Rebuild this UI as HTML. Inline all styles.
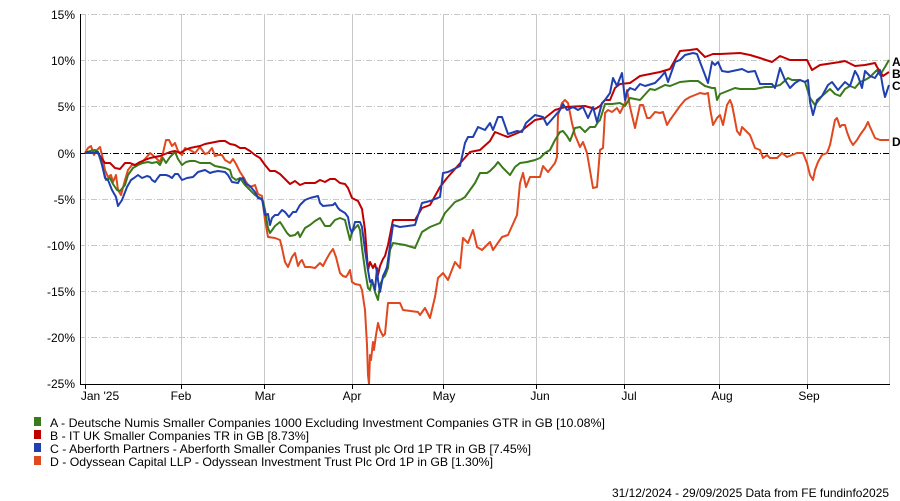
<!DOCTYPE html>
<html><head><meta charset="utf-8"><style>
html,body{margin:0;padding:0;background:#fff;}
svg{display:block;font-family:"Liberation Sans",sans-serif;}
</style></head><body>
<svg width="900" height="501" viewBox="0 0 900 501" xmlns="http://www.w3.org/2000/svg">
<g stroke="#c8c8c8" stroke-width="1">
<line x1="85.5" y1="15" x2="85.5" y2="384"/><line x1="181.5" y1="15" x2="181.5" y2="384"/><line x1="264.5" y1="15" x2="264.5" y2="384"/><line x1="352.5" y1="15" x2="352.5" y2="384"/><line x1="443.5" y1="15" x2="443.5" y2="384"/><line x1="536.5" y1="15" x2="536.5" y2="384"/><line x1="624.5" y1="15" x2="624.5" y2="384"/><line x1="719.5" y1="15" x2="719.5" y2="384"/><line x1="807.5" y1="15" x2="807.5" y2="384"/><line x1="889.5" y1="15" x2="889.5" y2="384"/>
</g>
<g stroke="#c8c8c8" stroke-width="1" stroke-dasharray="6,2,1,2">
<line x1="80" y1="14.5" x2="890" y2="14.5"/><line x1="80" y1="60.5" x2="890" y2="60.5"/><line x1="80" y1="106.5" x2="890" y2="106.5"/><line x1="80" y1="199.5" x2="890" y2="199.5"/><line x1="80" y1="245.5" x2="890" y2="245.5"/><line x1="80" y1="291.5" x2="890" y2="291.5"/><line x1="80" y1="337.5" x2="890" y2="337.5"/>
</g>
<line x1="80" y1="153.5" x2="890" y2="153.5" stroke="#000" stroke-width="1" stroke-dasharray="6,2,1,2"/>
<g fill="none" stroke-width="2" stroke-linejoin="round">
<polyline stroke="#e04820" points="85,153 88,148 91,146 94,155 97,150 100,147 102,155 105,170 108,177 111,175 113,182 116,175 118,190 121,195 125,180 128,170 132,165 135,165 138,164 142,162 146,158 150,153 155,157 160,162 163,153 166,140 169,140 172,146 175,143 178,151 182,155 185,148 190,150 195,153 200,147 205,154 208,153 212,148 215,156 218,155 222,155 225,160 230,163 233,159 236,164 240,172 244,178 246,182 250,187 255,185 258,194 262,196 265,220 268,237 275,238 280,240 282,248 285,262 288,267 292,257 295,253 298,266 300,262 302,260 305,267 310,267 315,268 320,263 323,266 326,260 330,253 333,249 336,257 340,273 343,276 346,277 348,274 350,270 352,282 355,284 360,285 362,290 365,310 367,345 368,375 369,384 370,355 371,360 373,342 374,350 376,335 378,323 380,330 383,336 385,334 388,303 400,303 403,310 418,312 420,315 425,308 430,318 435,297 438,278 443,273 448,280 455,262 460,268 463,238 468,243 473,230 477,247 482,250 490,242 493,250 502,237 508,235 517,215 520,183 523,173 526,187 530,177 540,177 543,166 548,172 555,163 557,157 558,115 562,103 565,100 568,103 572,123 575,135 580,147 583,142 587,153 593,188 597,187 600,150 603,148 605,113 608,110 612,112 617,108 620,113 625,103 627,90 630,107 635,128 640,105 643,105 647,118 650,118 655,112 660,113 663,112 667,125 670,120 680,106 685,100 690,97 695,95 700,93 705,94 708,93 710,108 713,125 717,118 720,115 723,125 727,105 730,100 732,105 734,115 737,131 740,135 742,127 745,130 750,135 755,148 760,150 763,158 767,155 770,158 777,158 782,153 787,157 792,155 797,153 803,153 807,163 810,175 813,180 815,170 818,162 822,155 827,153 830,145 833,130 835,120 837,118 840,127 842,125 845,125 847,132 850,140 853,145 857,140 860,135 865,128 868,122 870,127 875,138 880,140 889,140"/>
<polyline stroke="#3a7a1a" points="85,153 90,151 95,150 98,152 102,165 106,180 110,178 113,184 117,190 120,191 125,185 128,175 133,168 138,165 143,163 148,162 152,163 157,162 160,165 163,158 166,163 170,157 175,152 178,159 182,165 186,162 190,161 195,161 200,163 210,163 215,166 220,167 225,168 230,170 232,177 236,180 240,178 245,185 250,190 255,195 260,198 263,201 265,210 268,228 270,233 275,226 280,222 282,225 287,233 290,236 295,235 298,232 300,237 305,228 310,225 315,221 320,218 325,226 330,226 335,220 340,218 345,220 348,232 350,240 352,232 355,228 358,225 360,230 362,248 365,270 368,288 370,290 372,280 375,292 378,300 380,285 383,278 385,276 388,268 390,250 393,243 405,245 415,248 422,232 430,227 440,223 445,213 455,202 462,199 465,197 470,190 475,183 480,173 487,173 490,171 495,166 498,162 503,168 510,175 515,167 520,163 527,162 535,160 540,158 545,153 550,150 555,140 560,132 563,131 567,136 570,141 575,128 580,127 585,132 590,127 595,127 598,122 600,120 605,104 612,104 620,103 625,106 630,98 640,100 650,89 655,90 665,85 670,86 680,82 690,81 698,81 705,86 712,88 715,88 717,100 720,94 730,90 735,88 740,89 755,89 765,87 772,87 780,85 788,78 792,80 800,80 805,82 810,98 815,105 822,96 830,89 835,94 840,96 845,89 850,86 855,88 860,82 865,80 870,77 877,70 880,75 885,67 889,60"/>
<polyline stroke="#c00000" points="85,153 88,152 92,153 97,152 100,156 105,163 110,163 115,168 120,169 125,163 130,163 135,165 140,162 145,160 150,158 155,157 160,156 165,154 170,152 175,151 180,153 185,150 190,148 195,147 200,146 205,144 210,143 215,142 220,141 225,141 230,144 235,145 240,148 245,148 250,151 255,155 260,158 265,165 270,171 275,171 280,174 285,179 290,184 295,181 300,185 305,183 315,183 320,180 325,182 330,179 335,179 340,183 345,184 348,188 352,198 358,201 362,209 365,230 368,270 370,262 373,268 375,264 378,275 380,266 383,259 385,256 388,245 393,220 415,220 422,208 430,205 440,187 447,178 470,152 480,150 490,141 495,132 505,136 508,137 520,132 535,120 545,118 555,110 565,107 585,106 595,109 600,106 605,100 610,100 615,88 620,84 630,83 640,76 660,72 670,69 680,51 690,50 697,49 705,57 713,54 720,54 740,53 750,55 760,58 772,62 780,56 790,60 807,60 812,70 820,65 840,62 845,61 855,66 865,65 875,63 877,67 883,76 889,72"/>
<polyline stroke="#2040b0" points="85,153 96,153 98,152 101,160 105,178 108,180 112,190 116,197 118,206 122,200 127,187 131,180 134,178 138,175 142,178 147,176 150,177 152,180 155,182 157,179 160,175 166,175 169,176 172,178 175,174 178,174 182,180 187,178 193,177 198,172 205,170 210,173 213,172 218,171 225,172 228,175 232,182 238,183 240,179 243,178 246,184 250,186 255,192 258,198 262,199 265,215 268,214 270,225 272,218 275,215 278,215 282,210 285,212 289,217 293,212 296,212 300,205 305,200 310,198 318,196 320,203 323,206 333,205 335,203 338,208 340,210 345,213 348,217 350,228 352,233 355,222 360,222 362,227 365,250 368,270 370,282 372,280 375,290 377,268 378,280 380,292 383,276 385,272 387,267 393,225 400,227 415,225 422,203 430,201 440,197 443,173 448,172 460,166 465,143 468,137 473,137 478,127 485,130 490,123 493,130 498,117 502,117 508,134 517,131 522,132 526,123 535,115 543,117 547,125 560,110 563,104 567,110 573,107 578,110 583,107 588,118 593,107 597,122 602,103 605,100 610,93 613,78 617,86 620,78 622,73 625,100 627,92 630,88 635,90 640,84 645,86 655,83 660,78 665,72 668,82 675,62 680,60 685,55 693,53 697,54 700,62 705,75 708,83 712,62 715,65 718,62 722,71 728,72 742,69 748,72 755,71 760,84 772,84 775,88 780,68 785,80 790,88 795,83 800,80 805,82 808,80 810,102 813,115 817,100 822,96 828,85 832,82 838,90 845,82 850,86 855,71 858,76 862,88 865,71 870,76 875,78 880,70 883,88 885,97 889,85"/>
</g>
<g stroke="#000" stroke-width="1">
<line x1="80.5" y1="14" x2="80.5" y2="384"/><line x1="80" y1="384.5" x2="890" y2="384.5"/>
<line x1="85.5" y1="384" x2="85.5" y2="389"/><line x1="181.5" y1="384" x2="181.5" y2="389"/><line x1="264.5" y1="384" x2="264.5" y2="389"/><line x1="352.5" y1="384" x2="352.5" y2="389"/><line x1="443.5" y1="384" x2="443.5" y2="389"/><line x1="536.5" y1="384" x2="536.5" y2="389"/><line x1="624.5" y1="384" x2="624.5" y2="389"/><line x1="719.5" y1="384" x2="719.5" y2="389"/><line x1="807.5" y1="384" x2="807.5" y2="389"/>
</g>
<g font-size="12" fill="#000" text-anchor="end">
<text x="75" y="19">15%</text><text x="75" y="65">10%</text><text x="75" y="111">5%</text><text x="75" y="158">0%</text><text x="75" y="204">-5%</text><text x="75" y="250">-10%</text><text x="75" y="296">-15%</text><text x="75" y="342">-20%</text><text x="75" y="388">-25%</text>
</g>
<g font-size="12" fill="#000" text-anchor="middle">
<text x="100" y="400">Jan '25</text><text x="181" y="400">Feb</text><text x="265" y="400">Mar</text><text x="352" y="400">Apr</text><text x="444" y="400">May</text><text x="540" y="400">Jun</text><text x="629" y="400">Jul</text><text x="722" y="400">Aug</text><text x="809" y="400">Sep</text>
</g>
<g font-size="12" font-weight="bold" fill="#000">
<text x="892" y="66">A</text><text x="892" y="78">B</text><text x="892" y="90">C</text><text x="892" y="146">D</text>
</g>
<rect x="34" y="417" width="7" height="9" fill="#3a7a1a"/>
<rect x="34" y="430" width="7" height="9" fill="#c00000"/>
<rect x="34" y="443" width="7" height="9" fill="#2040b0"/>
<rect x="34" y="456" width="7" height="9" fill="#e04820"/>
<g font-size="12" fill="#000">
<text x="50" y="427" textLength="555" lengthAdjust="spacingAndGlyphs">A - Deutsche Numis Smaller Companies 1000 Excluding Investment Companies GTR in GB [10.08%]</text>
<text x="50" y="440" textLength="259" lengthAdjust="spacingAndGlyphs">B - IT UK Smaller Companies TR in GB [8.73%]</text>
<text x="50" y="453" textLength="481" lengthAdjust="spacingAndGlyphs">C - Aberforth Partners - Aberforth Smaller Companies Trust plc Ord 1P TR in GB [7.45%]</text>
<text x="50" y="466" textLength="443" lengthAdjust="spacingAndGlyphs">D - Odyssean Capital LLP - Odyssean Investment Trust Plc Ord 1P in GB [1.30%]</text>
<text x="612" y="497" textLength="277" lengthAdjust="spacingAndGlyphs">31/12/2024 - 29/09/2025 Data from FE fundinfo2025</text>
</g>
</svg>
</body></html>
